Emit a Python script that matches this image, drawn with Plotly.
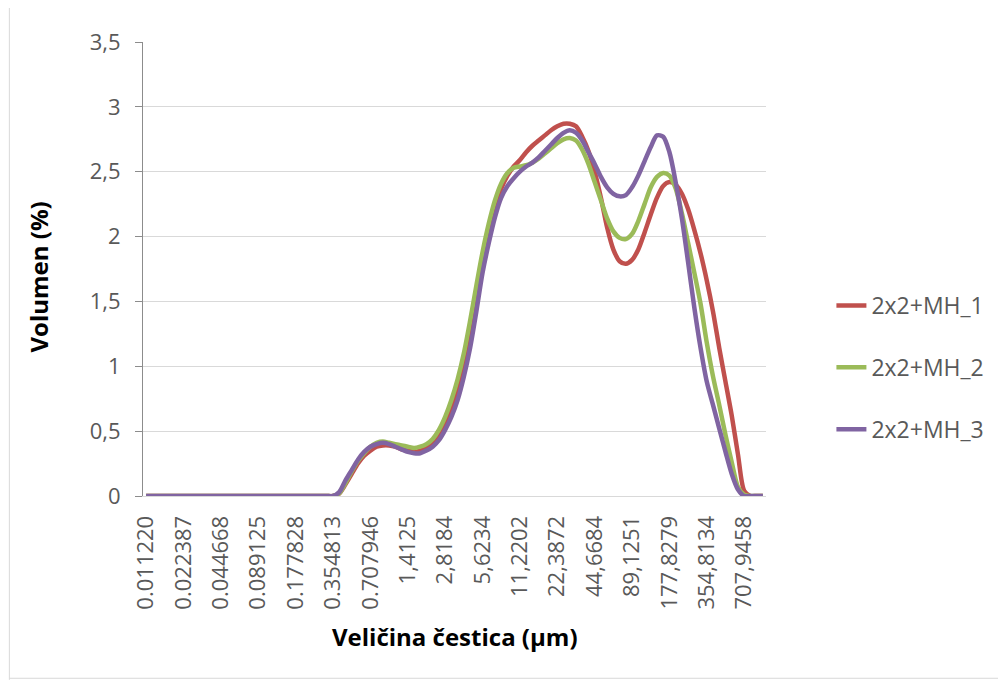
import plotly.graph_objects as go

# Size classes (µm) used as categories
categories = [
    "0.011220", "0.012589", "0.014125", "0.015849", "0.017783", "0.019953", "0.022387", "0.025119", "0.028184", "0.031623",
    "0.035481", "0.039811", "0.044668", "0.050119", "0.056234", "0.063096", "0.070795", "0.079433", "0.089125", "0.100000",
    "0.112202", "0.125893", "0.141254", "0.158489", "0.177828", "0.199526", "0.223872", "0.251189", "0.281838", "0.316228",
    "0.354813", "0.398107", "0.446684", "0.501187", "0.562341", "0.630957", "0.707946", "0.794328", "0.891251", "1,0000",
    "1,1220", "1,2589", "1,4125", "1,5849", "1,7783", "1,9953", "2,2387", "2,5119", "2,8184", "3,1623",
    "3,5481", "3,9811", "4,4668", "5,0119", "5,6234", "6,3096", "7,0795", "7,9433", "8,9125", "10,0000",
    "11,2202", "12,5893", "14,1254", "15,8489", "17,7828", "19,9526", "22,3872", "25,1189", "28,1838", "31,6228",
    "35,4813", "39,8107", "44,6684", "50,1187", "56,2341", "63,0957", "70,7946", "79,4328", "89,1251", "100,0000",
    "112,2018", "125,8925", "141,2538", "158,4893", "177,8279", "199,5262", "223,8721", "251,1886", "281,8383", "316,2278",
    "354,8134", "398,1072", "446,6836", "501,1872", "562,3413", "630,9573", "707,9458", "794,3282", "891,2509", "1000,0000",
]

tick_labels = [
    "0.011220", "0.022387", "0.044668", "0.089125", "0.177828", "0.354813", "0.707946",
    "1,4125", "2,8184", "5,6234", "11,2202", "22,3872", "44,6684", "89,1251",
    "177,8279", "354,8134", "707,9458",
]

series_names = ["2x2+MH_1", "2x2+MH_2", "2x2+MH_3"]

mh_1 = [0] * 31 + [
    0.02, 0.09, 0.17, 0.25, 0.31, 0.35, 0.38, 0.39, 0.39,            # 32-40
    0.38, 0.36, 0.35, 0.34, 0.35, 0.37, 0.40, 0.47, 0.56, 0.68,      # 41-50
    0.83, 1.02, 1.25, 1.52, 1.78, 2.02, 2.22, 2.37, 2.47, 2.54,      # 51-60
    2.59, 2.65, 2.70, 2.74, 2.78, 2.82, 2.85, 2.87, 2.87, 2.85,      # 61-70
    2.77, 2.66, 2.50, 2.30, 2.07, 1.90, 1.81, 1.79, 1.82, 1.90,      # 71-80
    2.03, 2.17, 2.30, 2.39, 2.42, 2.40, 2.33, 2.21, 2.05, 1.87,      # 81-90
    1.66, 1.42, 1.14, 0.88, 0.62, 0.32, 0.04, 0, 0, 0,               # 91-100
]

mh_2 = [0] * 31 + [
    0.02, 0.10, 0.19, 0.27, 0.33, 0.38, 0.41, 0.42, 0.41,
    0.40, 0.39, 0.38, 0.37, 0.38, 0.40, 0.44, 0.51, 0.61, 0.74,
    0.90, 1.10, 1.35, 1.62, 1.88, 2.10, 2.28, 2.41, 2.49, 2.53,
    2.54, 2.55, 2.57, 2.60, 2.64, 2.68, 2.72, 2.75, 2.76, 2.74,
    2.67, 2.56, 2.42, 2.28, 2.14, 2.04, 1.99, 1.98, 2.02, 2.12,
    2.25, 2.38, 2.46, 2.49, 2.47, 2.37, 2.18, 1.95, 1.72, 1.48,
    1.18, 0.92, 0.70, 0.47, 0.26, 0.07, 0.01, 0, 0, 0,
]

mh_3 = [0] * 31 + [
    0.03, 0.12, 0.20, 0.28, 0.34, 0.38, 0.40, 0.41, 0.40,
    0.38, 0.36, 0.34, 0.33, 0.33, 0.35, 0.38, 0.43, 0.51, 0.61,
    0.74, 0.92, 1.14, 1.42, 1.72, 1.95, 2.15, 2.30, 2.39, 2.45,
    2.50, 2.54, 2.57, 2.61, 2.66, 2.71, 2.76, 2.80, 2.82, 2.80,
    2.74, 2.65, 2.56, 2.46, 2.38, 2.33, 2.31, 2.32, 2.38, 2.47,
    2.58, 2.69, 2.78, 2.77, 2.65, 2.42, 2.14, 1.80, 1.45, 1.14,
    0.88, 0.70, 0.52, 0.34, 0.17, 0.05, 0.0, 0, 0, 0,
]

colors = ["#C0504D", "#9BBB59", "#8064A2"]

FONT = "Open Sans, Liberation Sans, sans-serif"

fig = go.Figure()
for name, vals, col in zip(series_names, [mh_1, mh_2, mh_3], colors):
    fig.add_trace(go.Scatter(
        x=categories, y=vals, name=name, mode="lines",
        line=dict(color=col, width=4.5, shape="spline", smoothing=0.8),
        legendgroup=name,
    ))

fig.update_layout(
    width=1006, height=684,
    margin=dict(l=135, r=248, t=34, b=196),
    paper_bgcolor="white", plot_bgcolor="white",
    font=dict(family=FONT, color="#595959", size=22),
    showlegend=True,
    legend=dict(
        x=1.105, xanchor="left", y=0.283, yanchor="middle",
        font=dict(size=23, color="#595959", family=FONT),
        tracegroupgap=29, bgcolor="rgba(0,0,0,0)",
    ),
    xaxis=dict(
        type="category", categoryorder="array", categoryarray=categories,
        range=[-0.5, 99.5],
        tickmode="array", tickvals=tick_labels, ticktext=tick_labels,
        tickangle=-90, tickfont=dict(size=22, color="#595959", family=FONT),
        showgrid=False, zeroline=False,
        showline=True, linecolor="#d9d9d9", linewidth=1,
        ticks="", ticklabelstandoff=10,
    ),
    yaxis=dict(
        range=[0, 3.5], tickvals=[0, 0.5, 1, 1.5, 2, 2.5, 3, 3.5],
        ticktext=["0", "0,5", "1", "1,5", "2", "2,5", "3", "3,5"],
        tickfont=dict(size=22, color="#595959", family=FONT),
        showgrid=True, gridcolor="#d9d9d9", gridwidth=1,
        zeroline=False, showline=True, linecolor="#8c8c8c", linewidth=1,
        ticks="outside", ticklen=7, tickcolor="#8c8c8c", ticklabelstandoff=10,
    ),
    annotations=[
        dict(text="<b>Volumen (%)</b>", textangle=-90, xref="paper", yref="paper",
             x=-0.168, y=0.482, xanchor="center", yanchor="middle", showarrow=False,
             font=dict(size=24, color="black", family=FONT)),
        dict(text="<b>Veličina čestica (µm)</b>", xref="paper", yref="paper",
             x=0.501, y=-0.309, xanchor="center", yanchor="middle", showarrow=False,
             font=dict(size=24, color="black", family=FONT)),
    ],
    shapes=[
        dict(type="line", xref="paper", yref="paper", x0=-0.2145, x1=-0.2145, y0=-0.405, y1=1.1,
             line=dict(color="#d9d9d9", width=1)),
        dict(type="line", xref="paper", yref="paper", x0=-0.2145, x1=1.4, y0=-0.4015, y1=-0.4015,
             line=dict(color="#d9d9d9", width=1)),
    ],
)

fig.write_html("out.html")
